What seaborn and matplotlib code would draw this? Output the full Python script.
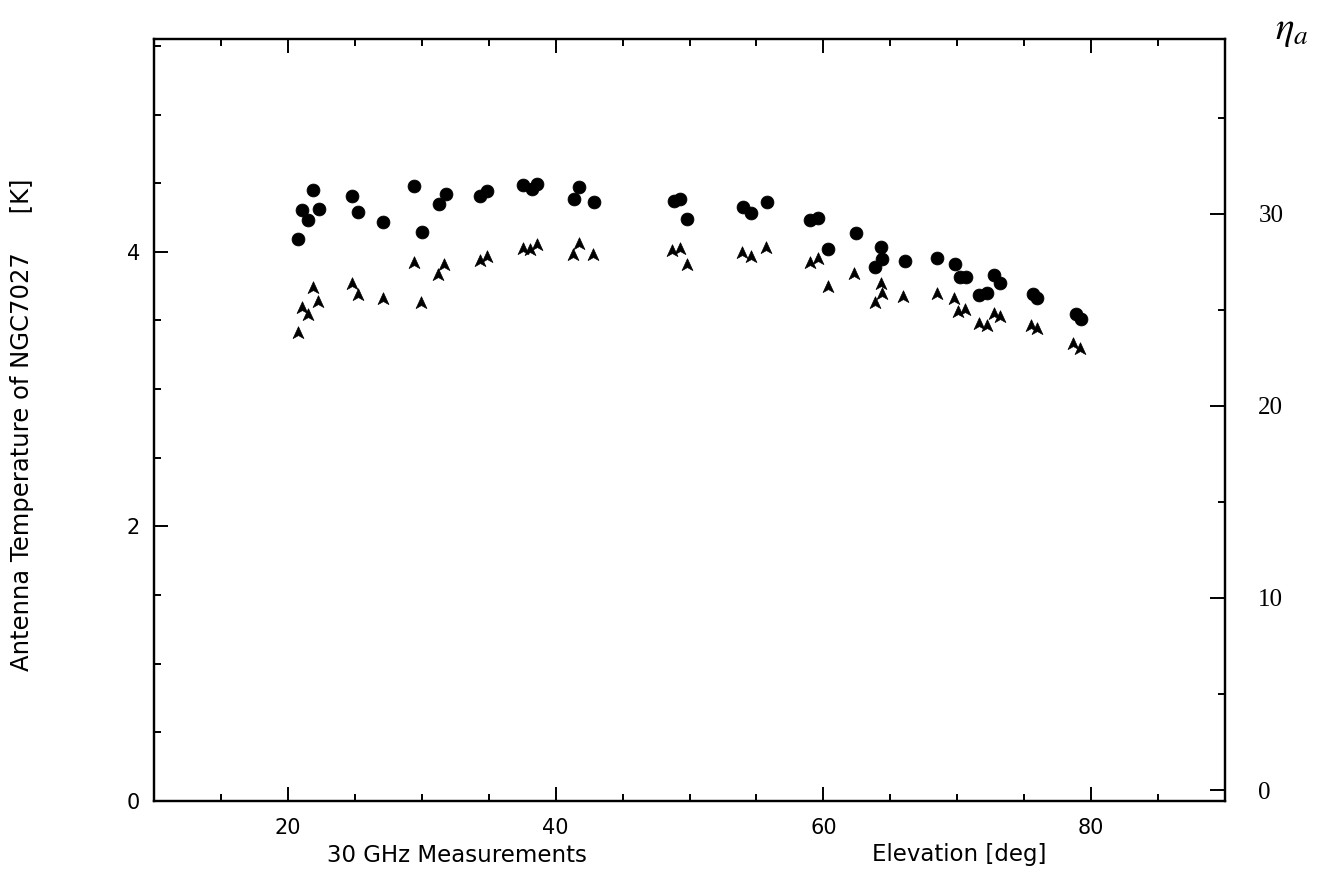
import matplotlib
matplotlib.use("Agg")
import matplotlib.pyplot as plt
from matplotlib.path import Path
from matplotlib.ticker import MultipleLocator
import pandas as pd
import seaborn as sns

# 30 GHz measurements of NGC7027 versus elevation
# filled dots: antenna temperature [K] (left axis)
elev_dot = [20.72, 21.09, 21.54, 21.87, 22.34, 24.80, 25.22, 27.13, 29.45, 30.00,
            31.29, 31.79, 34.35, 34.90, 37.58, 38.21, 38.58, 41.37, 41.74, 42.86,
            48.83, 49.28, 49.85, 53.96, 54.57, 55.79, 58.98, 59.60, 60.37, 62.41,
            64.28, 64.35, 63.85, 66.09, 68.51, 69.80, 70.17, 70.67, 71.66, 72.21,
            72.71, 73.21, 75.64, 75.94, 78.88, 79.25]
temp_dot = [4.094, 4.302, 4.235, 4.448, 4.315, 4.404, 4.290, 4.220, 4.479, 4.145,
            4.348, 4.424, 4.409, 4.443, 4.484, 4.460, 4.496, 4.387, 4.472, 4.366,
            4.370, 4.387, 4.242, 4.326, 4.286, 4.363, 4.230, 4.249, 4.021, 4.137,
            4.036, 3.948, 3.890, 3.934, 3.956, 3.910, 3.813, 3.818, 3.685, 3.697,
            3.828, 3.770, 3.690, 3.665, 3.547, 3.508]

# arrowheads: second series on the same temperature scale
elev_tri = [20.72, 21.04, 21.49, 21.87, 22.28, 24.80, 25.22, 27.09, 29.45, 29.95,
            31.19, 31.69, 34.35, 34.90, 37.58, 38.08, 38.58, 41.27, 41.76, 42.81,
            48.66, 49.28, 49.82, 53.93, 54.57, 55.75, 58.98, 59.60, 60.37, 62.28,
            64.28, 64.35, 63.85, 65.97, 68.51, 69.75, 70.05, 70.55, 71.61, 72.21,
            72.71, 73.21, 75.52, 75.94, 78.68, 79.18]
temp_tri = [3.406, 3.588, 3.539, 3.733, 3.636, 3.765, 3.685, 3.656, 3.919, 3.629,
            3.830, 3.903, 3.932, 3.963, 4.017, 4.012, 4.048, 3.980, 4.060, 3.975,
            4.006, 4.024, 3.903, 3.992, 3.963, 4.031, 3.919, 3.951, 3.741, 3.842,
            3.765, 3.690, 3.629, 3.672, 3.690, 3.656, 3.563, 3.576, 3.474, 3.459,
            3.544, 3.527, 3.459, 3.435, 3.328, 3.290]

left_ticks = [0, 2, 4]
right_ticks = [0, 10, 20, 30]
x_ticks = [20, 40, 60, 80]

dots = pd.DataFrame({"elev": elev_dot, "temp": temp_dot})
tris = pd.DataFrame({"elev": elev_tri, "temp": temp_tri})

sns.set_style("ticks")
plt.rcParams["font.family"] = ["DejaVu Sans"]
plt.rcParams["mathtext.fontset"] = "stix"
plt.rcParams["text.color"] = "black"
plt.rcParams["xtick.color"] = "black"
plt.rcParams["ytick.color"] = "black"
plt.rcParams["axes.labelcolor"] = "black"

W, H = 1325, 877
fig = plt.figure(figsize=(W / 100, H / 100), dpi=100)
ax = fig.add_axes([154 / W, (H - 801) / H, (1225 - 154) / W, (801 - 39) / H])

# arrowhead marker with a notched base
arrow = Path([(0, 1.0), (0.8, -0.75), (0, -0.3), (-0.8, -0.75), (0, 1.0)],
             [Path.MOVETO, Path.LINETO, Path.LINETO, Path.LINETO, Path.CLOSEPOLY])

sns.scatterplot(data=dots, x="elev", y="temp", ax=ax, marker="o", s=85,
                color="black", edgecolor="black", linewidth=0.6, legend=False)
sns.scatterplot(data=tris, x="elev", y="temp", ax=ax, marker=arrow, s=95,
                color="black", edgecolor="black", linewidth=0.5, legend=False)

ax.set_xlim(10, 90)
ax.set_ylim(0, 5.55)
ax.set_xlabel("")
ax.set_ylabel("")

ax.set_xticks(x_ticks)
ax.xaxis.set_minor_locator(MultipleLocator(5))
ax.set_yticks(left_ticks)
ax.yaxis.set_minor_locator(MultipleLocator(0.5))

for side in ax.spines.values():
    side.set_linewidth(1.6)
    side.set_color("black")

ax.tick_params(axis="x", which="both", direction="in", top=True, bottom=True,
               width=1.4, color="black", labelcolor="black", labelsize=15, pad=12)
ax.tick_params(axis="x", which="major", length=10)
ax.tick_params(axis="x", which="minor", length=5)
ax.tick_params(axis="y", which="both", direction="in", left=True, right=False,
               width=1.4, color="black", labelcolor="black", labelsize=15, pad=10)
ax.tick_params(axis="y", which="major", length=10)
ax.tick_params(axis="y", which="minor", length=5)

# right-hand efficiency scale
ax2 = ax.twinx()
ax2.set_ylim(-0.57, 39.1)
ax2.set_yticks(right_ticks)
ax2.yaxis.set_minor_locator(MultipleLocator(5))
ax2.tick_params(axis="y", which="both", direction="in", width=1.4, color="black",
                labelcolor="black", pad=24)
ax2.tick_params(axis="y", which="major", length=11)
ax2.tick_params(axis="y", which="minor", length=5)
for lab in ax2.get_yticklabels():
    lab.set_fontfamily("Liberation Serif")
    lab.set_fontsize(18)
for side in ax2.spines.values():
    side.set_linewidth(1.6)
    side.set_color("black")

fig.text(327 / W, 1 - 855 / H, "30 GHz Measurements", ha="left", va="center",
         fontsize=16.5)
fig.text(872 / W, 1 - 855 / H, "Elevation [deg]", ha="left", va="center",
         fontsize=16.5)
fig.text(22 / W, 1 - 425 / H, "Antenna Temperature of NGC7027     [K]",
         rotation=90, ha="center", va="center", fontsize=17.5)
fig.text(1292 / W, 1 - 30 / H, r"$\eta_a$", ha="center", va="center",
         fontsize=28)

fig.savefig("out.png", dpi=100, facecolor="white")
